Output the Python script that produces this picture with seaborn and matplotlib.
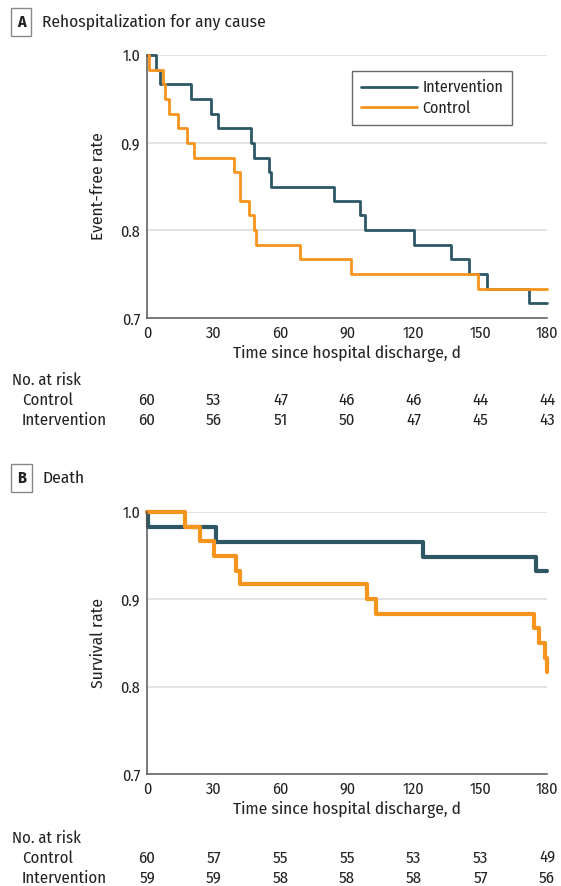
import numpy as np
import pandas as pd
import matplotlib
matplotlib.use("Agg")
import matplotlib.pyplot as plt
import matplotlib.transforms as mtransforms
import seaborn as sns

sns.set_style("white")
plt.rcParams["font.family"] = ["Fira Sans Condensed", "DejaVu Sans"]

# Panel A - rehospitalization (Kaplan-Meier steps)
a_int_t = [0, 4, 6, 20, 29, 32, 47, 48, 55, 56, 84, 96, 98, 120, 137, 145, 153, 172, 180]
a_int_s = [1.0, 0.983, 0.967, 0.95, 0.933, 0.917, 0.9, 0.883, 0.867, 0.85, 0.833,
           0.817, 0.8, 0.783, 0.767, 0.75, 0.733, 0.717, 0.717]
a_ctl_t = [0, 0.7, 7, 8, 10, 14, 18, 21, 39, 42, 46, 48, 49, 69, 92, 149, 180]
a_ctl_s = [1.0, 0.983, 0.967, 0.95, 0.933, 0.917, 0.9, 0.883, 0.867, 0.833, 0.817,
           0.8, 0.783, 0.767, 0.75, 0.733, 0.733]

# Panel B - death
b_int_t = [0, 0.4, 31, 124, 175, 180]
b_int_s = [1.0, 0.983, 0.966, 0.949, 0.932, 0.932]
b_ctl_t = [0, 17, 24, 30, 40, 42, 99, 103, 174, 176.3, 179, 180]
b_ctl_s = [1.0, 0.983, 0.967, 0.95, 0.933, 0.917, 0.9, 0.883, 0.867, 0.85, 0.833, 0.817]

risk_days = [0, 30, 60, 90, 120, 150, 180]
a_risk_ctl = [60, 53, 47, 46, 46, 44, 44]
a_risk_int = [60, 56, 51, 50, 47, 45, 43]
b_risk_ctl = [60, 57, 55, 55, 53, 53, 49]
b_risk_int = [59, 59, 58, 58, 58, 57, 56]

INT_COL = "#2e5766"
CTL_COL = "#f7941d"
AX_COL = "#555555"
TXT = "#222222"

W, H = 561, 886
fig = plt.figure(figsize=(W / 100, H / 100), dpi=100)


def px_axes(left, top, right, bottom):
    return fig.add_axes([left / W, 1 - bottom / H, (right - left) / W, (bottom - top) / H])


def km_frame(t_i, s_i, t_c, s_c):
    d1 = pd.DataFrame({"day": t_i, "rate": s_i, "group": "Intervention"})
    d2 = pd.DataFrame({"day": t_c, "rate": s_c, "group": "Control"})
    return pd.concat([d1, d2], ignore_index=True)


def style_axes(ax, ylabel):
    ax.set_xlim(0, 180)
    ax.set_ylim(0.7, 1.0)
    ax.set_xticks(risk_days)
    ax.set_yticks([0.7, 0.8, 0.9, 1.0])
    ax.set_yticklabels(["0.7", "0.8", "0.9", "1.0"])
    for y in [0.8, 0.9, 1.0]:
        ax.axhline(y, color="#dddddd", lw=1.2, zorder=0)
    for s in ["top", "right"]:
        ax.spines[s].set_visible(False)
    for s in ["left", "bottom"]:
        ax.spines[s].set_color(AX_COL)
        ax.spines[s].set_linewidth(1.1)
    ax.tick_params(axis="both", direction="out", length=4, width=1, color=AX_COL,
                   labelsize=11.5, labelcolor=TXT, pad=1)
    ax.set_xlabel("Time since hospital discharge, d", fontsize=12.5, color=TXT, labelpad=3)
    ax.set_ylabel(ylabel, fontsize=12.5, color=TXT, labelpad=10)


def risk_table(ax, ctl, itv, y0):
    tr = mtransforms.blended_transform_factory(ax.transData, fig.transFigure)
    fig.text(12 / W, 1 - y0 / H, "No. at risk", fontsize=12, color=TXT, va="center")
    fig.text(22 / W, 1 - (y0 + 20) / H, "Control", fontsize=12, color=TXT, va="center")
    fig.text(22 / W, 1 - (y0 + 40) / H, "Intervention", fontsize=12, color=TXT, va="center")
    for d, c, i in zip(risk_days, ctl, itv):
        ax.text(d, 1 - (y0 + 20) / H, str(c), transform=tr, ha="center", va="center",
                fontsize=12, color=TXT)
        ax.text(d, 1 - (y0 + 40) / H, str(i), transform=tr, ha="center", va="center",
                fontsize=12, color=TXT)


def panel_label(letter, title, y):
    fig.text(17 / W, 1 - y / H, letter, fontsize=11.5, fontweight="bold", color=TXT,
             va="center", ha="left",
             bbox=dict(boxstyle="square,pad=0.35", fc="white", ec="#888888", lw=1))
    fig.text(42 / W, 1 - y / H, title, fontsize=12.5, color=TXT, va="center", ha="left")


palette = {"Intervention": INT_COL, "Control": CTL_COL}

# Panel A
axA = px_axes(147, 55, 547, 318)
dfA = km_frame(a_int_t, a_int_s, a_ctl_t, a_ctl_s)
sns.lineplot(data=dfA, x="day", y="rate", hue="group", palette=palette,
             drawstyle="steps-post", lw=2, ax=axA, clip_on=False, estimator=None)
style_axes(axA, "Event-free rate")
leg = axA.legend(loc="upper left", bbox_to_anchor=(0.5125, 0.94), borderaxespad=0,
                 frameon=True, fancybox=False, edgecolor="#444444", fontsize=11.5,
                 handlelength=3.5, borderpad=0.55, labelspacing=0.3, handletextpad=0.35)
leg.get_frame().set_linewidth(1)
for t in leg.get_texts():
    t.set_color(TXT)
panel_label("A", "Rehospitalization for any cause", 22)
risk_table(axA, a_risk_ctl, a_risk_int, 380)

# Panel B
axB = px_axes(147, 512, 547, 774)
dfB = km_frame(b_int_t, b_int_s, b_ctl_t, b_ctl_s)
sns.lineplot(data=dfB, x="day", y="rate", hue="group", palette=palette,
             drawstyle="steps-post", lw=3, ax=axB, clip_on=False, estimator=None,
             legend=False)
style_axes(axB, "Survival rate")
panel_label("B", "Death", 478)
risk_table(axB, b_risk_ctl, b_risk_int, 838)

fig.savefig("out.png", dpi=100)
